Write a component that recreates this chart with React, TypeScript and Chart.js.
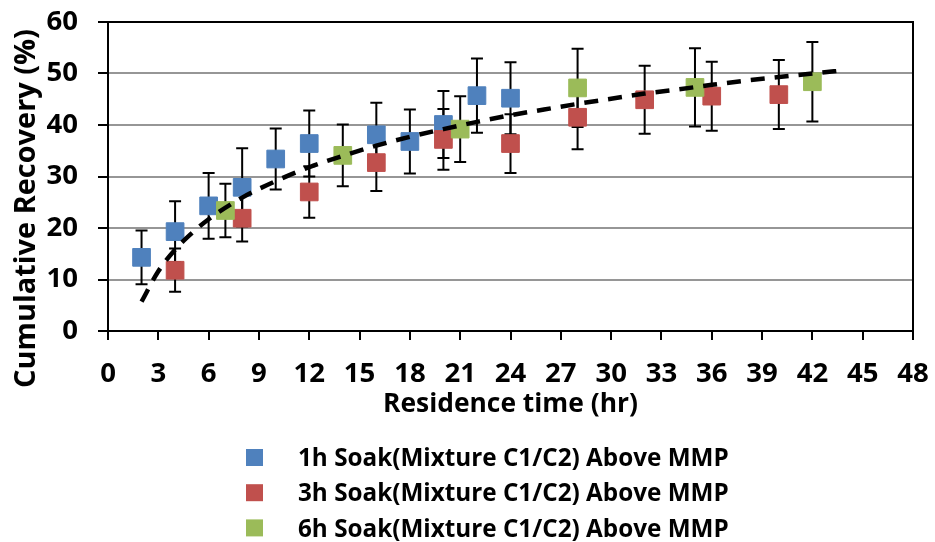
import React, { useEffect, useRef } from 'react';
import { Chart, registerables } from 'chart.js';

Chart.register(...registerables);

const FONT = '"Open Sans", "Liberation Sans", sans-serif';

const seriesLabels = [
  '1h Soak(Mixture C1/C2) Above MMP',
  '3h Soak(Mixture C1/C2) Above MMP',
  '6h Soak(Mixture C1/C2) Above MMP',
];
const seriesColors = ['#4F81BD', '#C0504D', '#9BBB59'];

const soak1hTime = [2, 4, 6, 8, 10, 12, 16, 18, 20, 22, 24];
const soak1hRecovery = [14.3, 19.3, 24.3, 27.9, 33.4, 36.4, 38.1, 36.8, 40.1, 45.7, 45.2];
const soak1hError = [5.2, 5.9, 6.4, 7.6, 5.9, 6.4, 6.2, 6.2, 6.5, 7.2, 7.0];

const soak3hTime = [4, 8, 12, 16, 20, 24, 28, 32, 36, 40];
const soak3hRecovery = [11.8, 21.9, 27.0, 32.7, 37.2, 36.4, 41.5, 44.9, 45.6, 45.9];
const soak3hError = [4.2, 4.5, 5.0, 5.5, 5.9, 5.7, 6.2, 6.6, 6.7, 6.7];

const soak6hTime = [7, 14, 21, 28, 35, 42];
const soak6hRecovery = [23.4, 34.1, 39.2, 47.2, 47.3, 48.4];
const soak6hError = [5.2, 6.0, 6.4, 7.6, 7.6, 7.7];

const trendTime = [2, 3, 4, 5, 6, 8, 10, 12, 14, 16, 18, 20, 22, 24, 26, 28, 30, 32, 34, 36, 38, 40, 42, 44];
const trendRecovery = [5.7, 11.6, 15.8, 19.0, 21.7, 25.9, 29.1, 31.8, 34.0, 36.0, 37.7, 39.2, 40.6, 41.9, 43.0, 44.1, 45.1, 46.1, 46.9, 47.8, 48.6, 49.3, 50.0, 50.7];

const xTitle = 'Residence time (hr)';
const yTitle = 'Cumulative Recovery (%)';
const xMin = 0, xMax = 48, xStep = 3;
const yMin = 0, yMax = 60, yStep = 10;

const zip = (xs: number[], ys: number[]) => xs.map((x, i) => ({ x, y: ys[i] }));

function fitSize(text: string, target: number): number {
  const c = document.createElement('canvas').getContext('2d') as CanvasRenderingContext2D;
  c.font = `bold 100px ${FONT}`;
  const w = c.measureText(text).width;
  return (100 * target) / w;
}

const errorBarPlugin = {
  id: 'errorBars',
  beforeDatasetsDraw(chart: any) {
    const { ctx, scales } = chart;
    const x = scales.x, y = scales.y;
    ctx.save();
    ctx.strokeStyle = '#000';
    ctx.lineWidth = 2;
    chart.data.datasets.forEach((ds: any) => {
      if (!ds.errors) return;
      ds.data.forEach((p: any, j: number) => {
        const e = ds.errors[j];
        const px = x.getPixelForValue(p.x);
        const top = y.getPixelForValue(p.y + e);
        const bot = y.getPixelForValue(p.y - e);
        ctx.beginPath();
        ctx.moveTo(px, top);
        ctx.lineTo(px, bot);
        ctx.moveTo(px - 6, top);
        ctx.lineTo(px + 6, top);
        ctx.moveTo(px - 6, bot);
        ctx.lineTo(px + 6, bot);
        ctx.stroke();
      });
    });
    ctx.restore();
  },
};

export default function App() {
  const ref = useRef<HTMLCanvasElement | null>(null);
  useEffect(() => {
    if (!ref.current) return;
    const tickSize = fitSize('60', 31.5);
    const xTitleSize = fitSize(xTitle, 255);
    const yTitleSize = fitSize(yTitle, 359);
    const legendSize = fitSize(seriesLabels[0], 431);

    const frameAndLegendPlugin = {
      id: 'frameAndLegend',
      beforeDatasetsDraw(chart: any) {
        const { ctx, chartArea } = chart;
        ctx.save();
        ctx.strokeStyle = '#000';
        ctx.lineWidth = 2;
        ctx.beginPath();
        ctx.moveTo(chartArea.left, chartArea.top);
        ctx.lineTo(chartArea.right, chartArea.top);
        ctx.lineTo(chartArea.right, chartArea.bottom);
        ctx.stroke();
        ctx.restore();
      },
      afterDraw(chart: any) {
        const { ctx, chartArea } = chart;
        ctx.save();
        ctx.translate(35, 208.5);
        ctx.rotate(-Math.PI / 2);
        ctx.font = `bold ${yTitleSize}px ${FONT}`;
        ctx.fillStyle = '#000';
        ctx.textAlign = 'center';
        ctx.textBaseline = 'alphabetic';
        ctx.fillText(yTitle, 0, 0);
        ctx.restore();

        ctx.save();
        ctx.font = `bold ${legendSize}px ${FONT}`;
        ctx.textBaseline = 'alphabetic';
        ctx.textAlign = 'left';
        const rowStart = chartArea.bottom + 126.5;
        chart.data.datasets.forEach((ds: any, i: number) => {
          if (!ds.errors) return;
          const cy = rowStart + i * 35.2;
          ctx.fillStyle = ds.backgroundColor;
          ctx.fillRect(246, cy - 8.5, 17, 17);
          ctx.fillStyle = '#000';
          ctx.fillText(ds.label, 298, cy + legendSize * 0.357);
        });
        ctx.restore();
      },
    };

    const mk = (i: number, xs: number[], ys: number[], es: number[], order: number) => ({
      label: seriesLabels[i],
      data: zip(xs, ys),
      errors: es,
      backgroundColor: seriesColors[i],
      borderColor: seriesColors[i],
      pointStyle: 'rect',
      pointRadius: 12.5,
      pointHoverRadius: 12.5,
      pointBorderWidth: 1,
      showLine: false,
      order,
    });
    const chart = new Chart(ref.current, {
      type: 'scatter',
      data: {
        datasets: [
          mk(0, soak1hTime, soak1hRecovery, soak1hError, 3),
          mk(1, soak3hTime, soak3hRecovery, soak3hError, 2),
          mk(2, soak6hTime, soak6hRecovery, soak6hError, 1),
          {
            label: 'trend',
            data: zip(trendTime, trendRecovery),
            showLine: true,
            borderColor: '#000',
            backgroundColor: '#000',
            borderWidth: 4.5,
            borderDash: [14, 10],
            pointRadius: 0,
            pointHoverRadius: 0,
            cubicInterpolationMode: 'monotone',
            order: 0,
          } as any,
        ],
      },
      options: {
        animation: false,
        responsive: false,
        maintainAspectRatio: false,
        events: [],
        layout: { padding: { left: 0, right: 22, top: 22, bottom: 112 } },
        plugins: { legend: { display: false }, tooltip: { enabled: false } },
        scales: {
          x: {
            type: 'linear',
            min: xMin,
            max: xMax,
            afterFit: (s: any) => {
              s.height = 99;
              s.paddingLeft = 0;
              s.paddingRight = 0;
            },
            ticks: {
              stepSize: xStep,
              color: '#000',
              font: { family: FONT, size: tickSize, weight: 'bold' },
              padding: 34 - 0.6 * tickSize,
              maxRotation: 0,
              autoSkip: false,
            },
            grid: { drawOnChartArea: false, drawTicks: true, tickLength: 9, tickColor: '#000', tickWidth: 2, lineWidth: 2 },
            border: { color: '#000', width: 2 },
            title: {
              display: true,
              text: xTitle,
              color: '#000',
              font: { family: FONT, size: xTitleSize, weight: 'bold' },
              padding: { top: 0, bottom: 26 - 0.6 * xTitleSize },
            },
          },
          y: {
            type: 'linear',
            min: yMin,
            max: yMax,
            afterFit: (s: any) => {
              s.width = 108;
              s.paddingTop = 0;
              s.paddingBottom = 0;
            },
            ticks: {
              stepSize: yStep,
              color: '#000',
              font: { family: FONT, size: tickSize, weight: 'bold' },
              padding: 20,
            },
            grid: { color: '#969696', lineWidth: 2, tickLength: 10, tickColor: '#000', tickWidth: 2 },
            border: { color: '#000', width: 2 },
          },
        },
      },
      plugins: [errorBarPlugin, frameAndLegendPlugin],
    } as any);
    return () => chart.destroy();
  }, []);
  return (
    <div style={{ position: 'absolute', left: 0, top: 0, width: 935, height: 542, background: '#fff' }}>
      <canvas ref={ref} width={935} height={542} />
    </div>
  );
}
